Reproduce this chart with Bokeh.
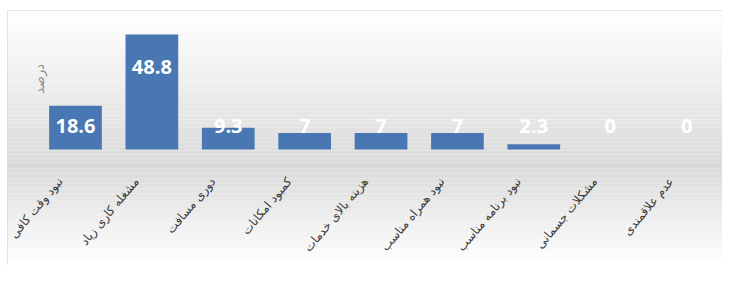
from bokeh.plotting import figure
from bokeh.models import ColumnDataSource, BoxAnnotation, Label, Range1d
from bokeh.core.properties import value
from bokeh.embed import file_html
from bokeh.resources import INLINE

categories = [
    "نبود وقت کافی",
    "مشغله کاری زیاد",
    "دوری مسافت",
    "کمبود امکانات",
    "هزینه بالای خدمات",
    "نبود همراه مناسب",
    "نبود برنامه مناسب",
    "مشکلات جسمانی",
    "عدم علاقمندی",
]
values = [18.6, 48.8, 9.3, 7, 7, 7, 2.3, 0, 0]
value_labels = ["18.6", "48.8", "9.3", "7", "7", "7", "2.3", "0", "0"]
y_title = "درصد"

xpos = [i + 0.5 for i in range(len(categories))]
label_y = [max(v - 13.9, 10.2) for v in values]

src = ColumnDataSource(dict(x=xpos, cat=categories, val=values, lab=value_labels, ly=label_y,
                            cy=[-12.6] * len(categories), cx=[x - 0.2 for x in xpos]))

p = figure(x_range=Range1d(-0.39, 8.97), y_range=Range1d(-49.2, 59.0), width=722, height=265,
           output_backend="svg", toolbar_location=None,
           min_border_left=7, min_border_top=10, min_border_right=0, min_border_bottom=0)
p.axis.visible = False
p.grid.visible = False
p.outline_line_color = "#d9d9d9"
p.outline_line_width = 1
p.background_fill_color = "white"
p.border_fill_color = "white"

# background gradient: white (top) -> gray (middle) -> white (bottom)
top, mid, bot = 59.0, -7.0, -49.2
n = 40
def mix(t):
    g = int(round(255 - (255 - 218) * t))
    return "#%02x%02x%02x" % (g, g, g)
for i in range(n):
    y0 = top - (top - mid) * i / n
    y1 = top - (top - mid) * (i + 1) / n
    p.add_layout(BoxAnnotation(top=y0, bottom=y1, fill_color=mix((i + 0.5) / n),
                               fill_alpha=1, line_alpha=0, level="underlay"))
for i in range(n):
    y0 = mid - (mid - bot) * i / n
    y1 = mid - (mid - bot) * (i + 1) / n
    p.add_layout(BoxAnnotation(top=y0, bottom=y1, fill_color=mix(1 - (i + 0.5) / n),
                               fill_alpha=1, line_alpha=0, level="underlay"))

p.vbar(x="x", top="val", bottom=0, width=0.69, source=src,
       fill_color="#4877b3", line_alpha=0)

p.text(x="x", y="ly", text="lab", source=src, text_color="white",
       text_font=value("Open Sans"), text_font_style="bold", text_font_size="20px",
       text_align="center", text_baseline="middle")

p.text(x="cx", y="cy", text="cat", source=src, text_color="#3a3a3a",
       text_font=value("DejaVu Sans"), text_font_size="12px",
       text_align="right", text_baseline="middle", angle=50, angle_units="deg")

p.add_layout(Label(x=0.03, y=30, text=y_title, angle=90, angle_units="deg",
                   text_color="#8c8c8c", text_font="DejaVu Sans", text_font_size="13px",
                   text_align="center", text_baseline="middle"))

open("out.html", "w").write(file_html(p, INLINE))
